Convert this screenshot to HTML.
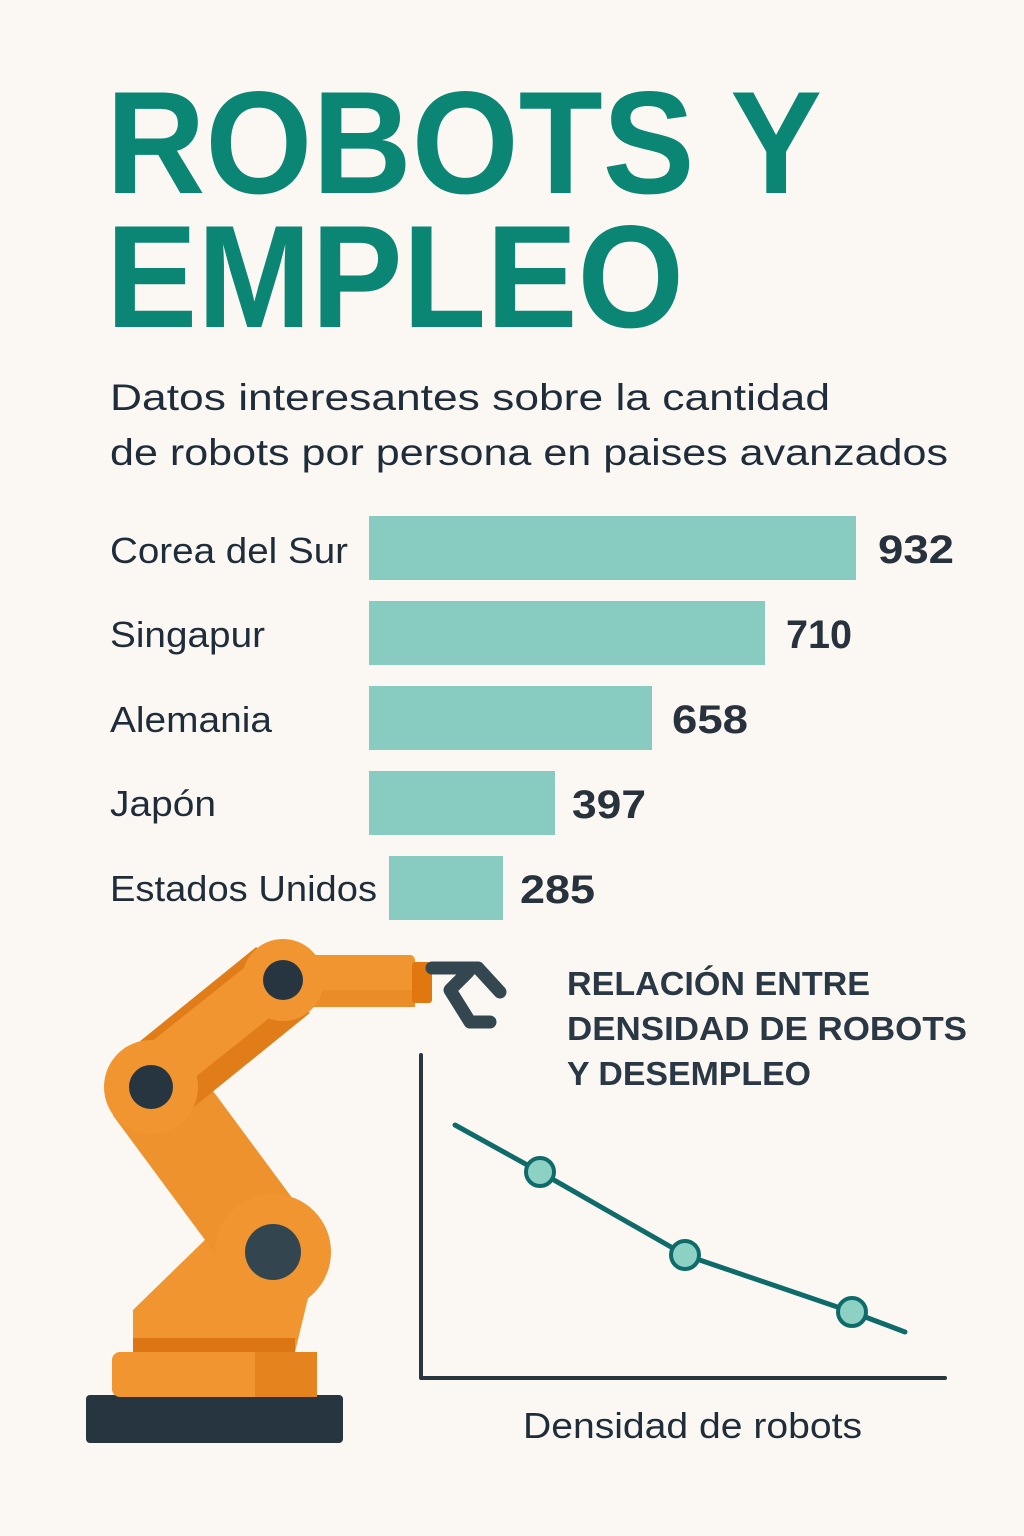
<!DOCTYPE html>
<html><head><meta charset="utf-8"><style>
html,body{margin:0;padding:0;background:#fbf8f3}
svg{display:block}
text{font-family:"Liberation Sans",sans-serif}
</style></head><body>
<svg width="1024" height="1536" viewBox="0 0 1024 1536" xmlns="http://www.w3.org/2000/svg">
<rect width="1024" height="1536" fill="#fbf8f3"/>
<g fill="#0b8574" font-weight="bold" font-size="146">
<text x="106" y="193" textLength="716" lengthAdjust="spacingAndGlyphs">ROBOTS Y</text>
<text x="106" y="327" textLength="578" lengthAdjust="spacingAndGlyphs">EMPLEO</text>
</g>
<g fill="#1f2d3a" font-size="37">
<text x="110" y="410" textLength="720" lengthAdjust="spacingAndGlyphs">Datos interesantes sobre la cantidad</text>
<text x="110" y="465" textLength="838" lengthAdjust="spacingAndGlyphs">de robots por persona en paises avanzados</text>
</g>
<g fill="#88cbc0">
<rect x="369" y="516" width="487" height="64"/>
<rect x="369" y="601" width="396" height="64"/>
<rect x="369" y="686" width="283" height="64"/>
<rect x="369" y="771" width="186" height="64"/>
<rect x="389" y="856" width="114" height="64"/>
</g>
<g fill="#1f2d3a" font-size="36">
<text x="110" y="563" textLength="238" lengthAdjust="spacingAndGlyphs">Corea del Sur</text>
<text x="110" y="647" textLength="155" lengthAdjust="spacingAndGlyphs">Singapur</text>
<text x="110" y="732" textLength="162" lengthAdjust="spacingAndGlyphs">Alemania</text>
<text x="110" y="816" textLength="106" lengthAdjust="spacingAndGlyphs">Japón</text>
<text x="110" y="901" textLength="267" lengthAdjust="spacingAndGlyphs">Estados Unidos</text>
</g>
<g fill="#27323d" font-size="40" font-weight="bold">
<text x="878" y="563" textLength="76" lengthAdjust="spacingAndGlyphs">932</text>
<text x="786" y="648" textLength="66" lengthAdjust="spacingAndGlyphs">710</text>
<text x="672" y="733" textLength="76" lengthAdjust="spacingAndGlyphs">658</text>
<text x="572" y="818" textLength="74" lengthAdjust="spacingAndGlyphs">397</text>
<text x="520" y="903" textLength="75" lengthAdjust="spacingAndGlyphs">285</text>
</g>
<!-- robot -->
<rect x="86" y="1395" width="257" height="48" rx="4" fill="#263540"/>
<rect x="112" y="1352" width="205" height="45" rx="8" fill="#f0952f"/>
<rect x="255" y="1352" width="62" height="45" fill="#e5841f"/>
<polygon points="133,1310 210,1235 310,1290 295,1352 133,1352" fill="#f0952f"/>
<rect x="133" y="1338" width="162" height="14" fill="#dc7513"/>
<line x1="151" y1="1087" x2="273" y2="1252" stroke="#ee922d" stroke-width="95"/>
<line x1="151" y1="1087" x2="283" y2="980" stroke="#e07d18" stroke-width="85"/>
<line x1="160" y1="1070" x2="283" y2="972" stroke="#f0952f" stroke-width="55"/>
<rect x="300" y="955" width="115" height="52" rx="5" fill="#f0952f"/>
<rect x="300" y="990" width="115" height="17" fill="#ea8c27"/>
<rect x="412" y="962" width="20" height="41" rx="3" fill="#e0780f"/>
<path d="M432 968 L478 968 L500 992 M468 972 L450 990 L470 1022 L490 1022" fill="none" stroke="#34464f" stroke-width="13" stroke-linecap="round" stroke-linejoin="round"/>
<circle cx="273" cy="1252" r="58" fill="#f0952f"/>
<circle cx="273" cy="1252" r="28" fill="#334650"/>
<circle cx="151" cy="1087" r="47" fill="#f0952f"/>
<circle cx="151" cy="1087" r="22" fill="#263540"/>
<circle cx="283" cy="980" r="41" fill="#f0952f"/>
<circle cx="283" cy="980" r="20" fill="#263540"/>
<!-- chart -->
<g fill="#2a3845" font-size="33" font-weight="bold">
<text x="567" y="995" textLength="303" lengthAdjust="spacingAndGlyphs">RELACIÓN ENTRE</text>
<text x="567" y="1040" textLength="400" lengthAdjust="spacingAndGlyphs">DENSIDAD DE ROBOTS</text>
<text x="567" y="1085" textLength="244" lengthAdjust="spacingAndGlyphs">Y DESEMPLEO</text>
</g>
<path d="M421 1055 L421 1378 L945 1378" fill="none" stroke="#263540" stroke-width="4" stroke-linecap="round" stroke-linejoin="round"/>
<polyline points="455,1125 540,1172 615,1215 685,1255 852,1312 905,1332" fill="none" stroke="#0e6b6a" stroke-width="5" stroke-linecap="round" stroke-linejoin="round"/>
<g fill="#8dd0c4" stroke="#0e6b6a" stroke-width="4">
<circle cx="540" cy="1172" r="14"/>
<circle cx="685" cy="1255" r="14"/>
<circle cx="852" cy="1312" r="14"/>
</g>
<text x="523" y="1438" fill="#1f2d3a" font-size="36" textLength="339" lengthAdjust="spacingAndGlyphs">Densidad de robots</text>
</svg>
</body></html>
